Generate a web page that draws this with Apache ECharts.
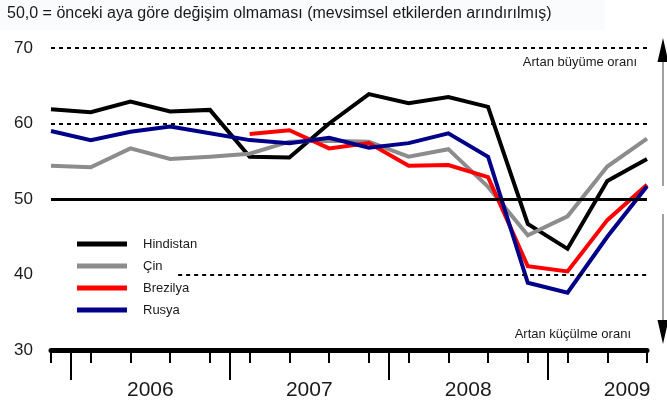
<!DOCTYPE html>
<html><head><meta charset="utf-8">
<script src="https://cdn.jsdelivr.net/npm/echarts@6/dist/echarts.min.js"></script>
<style>html,body{margin:0;padding:0;background:#fff}#c{width:667px;height:405px}</style>
</head><body><div id="c"></div>
<script>
// ---- data ----
const periods = ['2005-Ç4','2006-Ç1','2006-Ç2','2006-Ç3','2006-Ç4','2007-Ç1','2007-Ç2','2007-Ç3','2007-Ç4','2008-Ç1','2008-Ç2','2008-Ç3','2008-Ç4','2009-Ç1','2009-Ç2','2009-Ç3'];
const hindistan = [61.9, 61.5, 62.9, 61.6, 61.8, 55.6, 55.5, 60.0, 63.9, 62.7, 63.5, 62.2, 46.7, 43.4, 52.4, 55.3];
const cin       = [54.4, 54.2, 56.7, 55.3, 55.6, 56.0, 57.6, 57.7, 57.6, 55.6, 56.6, 51.6, 45.2, 47.7, 54.3, 58.0];
const brezilya  = [null, null, null, null, null, 58.6, 59.1, 56.7, 57.4, 54.4, 54.5, 52.9, 41.1, 40.4, 47.2, 51.9];
const rusya     = [59.0, 57.8, 58.9, 59.6, 58.7, 57.8, 57.4, 58.1, 56.8, 57.4, 58.7, 55.6, 38.9, 37.6, 45.0, 51.7];
const seriesNames = ['Hindistan', 'Çin', 'Brezilya', 'Rusya'];
const yearLabels = ['2006', '2007', '2008', '2009'];
const yearLabelAt = [2.5, 6.5, 10.5, 14.5];   // in period units
const yearBreaks = [0.5, 4.5, 8.5, 12.5];     // in period units
const yTicks = { min: 30, max: 70, step: 10 };
const dashedRefs = [70, 60];
const neutralRef = 50;
const lowRef = { value: 40, from: 3.2, to: 15 };
const titleText = '50,0 = önceki aya göre değişim olmaması (mevsimsel etkilerden arındırılmış)';
const upNote = 'Artan büyüme oranı';
const downNote = 'Artan küçülme oranı';

// ---- build ----
const FONT = "'Liberation Sans', Arial, sans-serif";
const colors = ['#000000', '#8c8c8c', '#ff0000', '#000088'];
const seriesData = [hindistan, cin, brezilya, rusya];

const halfCats = [], halfLabels = [];
for (let i = 0; i <= 2 * (periods.length - 1); i++) { halfCats.push('h' + i); halfLabels.push(''); }
yearLabelAt.forEach((p, k) => { halfLabels[Math.round(p * 2)] = yearLabels[k]; });
const breakIdx = yearBreaks.map(b => Math.round(b * 2));

const dashStyle = { type: [4, 4], width: 2, color: '#000' };

const chart = echarts.init(document.getElementById('c'), null, { renderer: 'canvas' });
chart.setOption({
  backgroundColor: '#ffffff',
  animation: false,
  title: {
    text: titleText, left: 7, top: 6, padding: 0,
    textStyle: { fontFamily: FONT, fontSize: 16, fontWeight: 'normal', color: '#1a1a1a' }
  },
  legend: {
    data: seriesNames, orient: 'vertical', left: 77, top: 237.5, padding: 0,
    icon: 'rect', itemWidth: 50, itemHeight: 5, itemGap: 9,
    selectedMode: false,
    textStyle: { fontFamily: FONT, fontSize: 13, color: '#1a1a1a', padding: [0, 0, 0, 11] }
  },
  grid: { left: 51, right: 20, top: 48, bottom: 55, containLabel: false, outerBoundsMode: 'none' },
  xAxis: [
    {
      type: 'category', data: periods, boundaryGap: false, position: 'bottom',
      axisLine: { show: true, lineStyle: { color: '#000', width: 5 } },
      axisTick: { show: true, interval: 0, length: 13, lineStyle: { color: '#000', width: 2 } },
      axisLabel: { show: false }, splitLine: { show: false }
    },
    {
      type: 'category', data: halfCats, boundaryGap: false, position: 'bottom',
      axisLine: { show: false },
      axisTick: { show: true, interval: (i) => breakIdx.indexOf(i) >= 0, length: 30, lineStyle: { color: '#000', width: 2 } },
      axisLabel: { show: true, interval: 0, margin: 30, fontFamily: FONT, fontSize: 21, color: '#1a1a1a',
                   formatter: (v, i) => halfLabels[i] },
      splitLine: { show: false }
    },
    { type: 'value', min: 0, max: periods.length - 1, show: false, position: 'bottom' }
  ],
  yAxis: {
    type: 'value', min: yTicks.min, max: yTicks.max, interval: yTicks.step,
    axisLine: { show: false }, axisTick: { show: false }, splitLine: { show: false },
    axisLabel: { margin: 18, fontFamily: FONT, fontSize: 17, color: '#1a1a1a', padding: [7, 0, 0, 0] }
  },
  graphic: [
    { type: 'rect', z: -10, shape: { x: 0, y: 0, width: 605, height: 30 }, style: { fill: '#f9fbfd' } },
    { type: 'text', x: 637, y: 62, style: { text: upNote, font: '13px ' + FONT, fill: '#1a1a1a', align: 'right', verticalAlign: 'middle' } },
    { type: 'text', x: 631, y: 334, style: { text: downNote, font: '13px ' + FONT, fill: '#1a1a1a', align: 'right', verticalAlign: 'middle' } },
    { type: 'line', shape: { x1: 663, y1: 60, x2: 663, y2: 186 }, style: { stroke: '#808080', lineWidth: 1.5 } },
    { type: 'polygon', shape: { points: [[663, 38], [657.5, 62], [668.5, 62]] }, style: { fill: '#000' } },
    { type: 'line', shape: { x1: 663, y1: 214, x2: 663, y2: 322 }, style: { stroke: '#808080', lineWidth: 1.5 } },
    { type: 'polygon', shape: { points: [[663, 344], [657.5, 320], [668.5, 320]] }, style: { fill: '#000' } }
  ],
  series: [
    {
      type: 'line', name: '_ref', xAxisIndex: 2, yAxisIndex: 0, data: [], z: 1, silent: true,
      markLine: {
        silent: true, symbol: ['none', 'none'], label: { show: false }, animation: false,
        data: [
          ...dashedRefs.map(v => ({ yAxis: v, lineStyle: dashStyle })),
          { yAxis: neutralRef, lineStyle: { type: 'solid', width: 3, color: '#000' } },
          [{ coord: [lowRef.from, lowRef.value], lineStyle: dashStyle }, { coord: [lowRef.to, lowRef.value] }]
        ]
      }
    },
    ...seriesNames.map((n, k) => ({
      type: 'line', name: n, data: seriesData[k], xAxisIndex: 0, yAxisIndex: 0,
      symbol: 'none', smooth: false, connectNulls: false, z: 3,
      itemStyle: { color: colors[k] },
      lineStyle: { color: colors[k], width: 4, join: 'miter' }
    }))
  ]
});
</script></body></html>
